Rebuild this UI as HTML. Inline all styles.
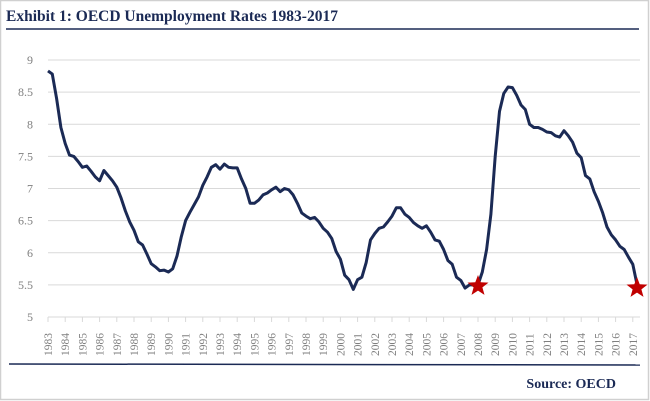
<!DOCTYPE html>
<html><head><meta charset="utf-8">
<style>
html,body{margin:0;padding:0;background:#fff;}
body{width:650px;height:401px;overflow:hidden;position:relative;font-family:"Liberation Serif",serif;}
</style></head>
<body>
<svg id="s" width="650" height="401" viewBox="0 0 650 401" xmlns="http://www.w3.org/2000/svg" style="position:absolute;left:0;top:0">
<rect x="0.5" y="0.5" width="648" height="399" fill="#fff" stroke="#d0d0d0" stroke-width="1.5"/>
<text x="6" y="21" font-family="Liberation Serif,serif" font-weight="bold" font-size="15.5" fill="#1b2a55">Exhibit 1: OECD Unemployment Rates 1983-2017</text>
<line x1="6" y1="29" x2="639" y2="29" stroke="#1b2a55" stroke-width="1.5"/>
<line x1="9" y1="364" x2="640" y2="365" stroke="#1b2a55" stroke-width="1.5"/>
<text x="616" y="388" text-anchor="end" font-family="Liberation Serif,serif" font-weight="bold" font-size="14" fill="#1b2a55">Source: OECD</text>
<g id="g"></g>
</svg>
<script>
var g=document.getElementById('g'),NS='http://www.w3.org/2000/svg',h='';
function Y(v){return 317-(v-5)*64.25;}
function X(t){return 48+(t-1983)*17.2;}
[5,5.5,6,6.5,7,7.5,8,8.5,9].forEach(function(v){
 h+='<line x1="48" x2="640" y1="'+Y(v)+'" y2="'+Y(v)+'" stroke="#d9d9d9" stroke-width="1"/>';
 h+='<text x="33" y="'+(Y(v)+4)+'" text-anchor="end" font-size="12" fill="#7f7f7f" font-family="Liberation Serif,serif">'+v+'</text>';
});
for(var yr=1983;yr<=2017;yr++){
 var x=X(yr);
 h+='<line x1="'+x+'" x2="'+x+'" y1="317" y2="322" stroke="#d9d9d9"/>';
 h+='<text transform="translate('+(x+4)+',356) rotate(-90)" font-size="11.5" fill="#7f7f7f" font-family="Liberation Serif,serif">'+yr+'</text>';
}
var d=[8.83,8.78,8.4,7.95,7.7,7.52,7.5,7.42,7.33,7.35,7.27,7.18,7.12,7.28,7.2,7.12,7.02,6.85,6.65,6.48,6.35,6.17,6.12,5.98,5.83,5.78,5.72,5.73,5.7,5.75,5.95,6.25,6.5,6.63,6.75,6.87,7.05,7.18,7.33,7.37,7.3,7.38,7.33,7.32,7.32,7.15,7.0,6.77,6.77,6.82,6.9,6.93,6.98,7.02,6.95,7.0,6.98,6.9,6.77,6.62,6.57,6.53,6.55,6.48,6.38,6.32,6.22,6.02,5.9,5.65,5.58,5.43,5.58,5.62,5.85,6.2,6.3,6.38,6.4,6.48,6.57,6.7,6.7,6.6,6.55,6.47,6.42,6.38,6.42,6.32,6.2,6.18,6.05,5.88,5.82,5.62,5.57,5.45,5.5,5.5,5.5,5.7,6.05,6.6,7.5,8.2,8.48,8.58,8.57,8.45,8.3,8.23,8.0,7.95,7.95,7.92,7.88,7.87,7.82,7.8,7.9,7.82,7.72,7.55,7.48,7.2,7.15,6.95,6.8,6.62,6.4,6.28,6.2,6.1,6.05,5.93,5.82,5.5];
var p=d.map(function(v,i){return X(1983+i*0.25).toFixed(1)+','+Y(v).toFixed(1);}).join(' ');
h+='<polyline points="'+p+'" fill="none" stroke="#1b2a55" stroke-width="3" stroke-linejoin="round"/>';
function star(cx,cy,r){var s=[];for(var i=0;i<10;i++){var a=-Math.PI/2+i*Math.PI/5,rr=i%2?r*0.42:r;s.push((cx+rr*Math.cos(a)).toFixed(1)+','+(cy+rr*Math.sin(a)).toFixed(1));}
 return '<polygon points="'+s.join(' ')+'" fill="#c00000"/>';}
h+=star(478,286,11)+star(637,288,11);
g.innerHTML=h;
</script>
</body></html>
